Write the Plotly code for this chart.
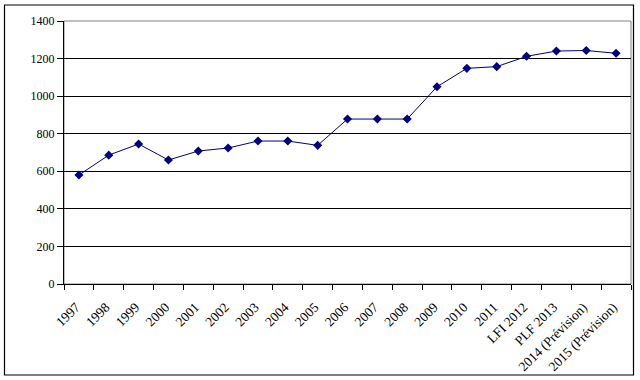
import plotly.graph_objects as go

categories = ["1997", "1998", "1999", "2000", "2001", "2002", "2003", "2004", "2005",
              "2006", "2007", "2008", "2009", "2010", "2011", "LFI 2012", "PLF 2013",
              "2014 (Prévision)", "2015 (Prévision)"]
values = [580, 686, 745, 660, 708, 724, 761, 761, 738,
          878, 878, 878, 1050, 1148, 1157, 1212, 1240, 1243, 1228]
y_ticks = [0, 200, 400, 600, 800, 1000, 1200, 1400]

fig = go.Figure()
fig.add_trace(go.Scatter(
    x=categories, y=values, mode="lines+markers",
    line=dict(color="#000080", width=1),
    marker=dict(symbol="diamond", size=7, color="#000080"),
    showlegend=False,
))

font = dict(family="Liberation Serif", size=12, color="black")

fig.update_layout(
    width=640, height=380,
    margin=dict(l=64, r=9, t=21, b=96, autoexpand=False),
    paper_bgcolor="white", plot_bgcolor="white",
    font=font,
    xaxis=dict(
        type="category", tickangle=-45, tickson="boundaries",
        ticks="outside", ticklen=5, tickcolor="black",
        showline=True, linecolor="black", linewidth=1,
        showgrid=False, tickfont=dict(family="Liberation Serif", size=13.5, color="black"),
        range=[-0.5, len(categories) - 0.5],
        automargin=False, ticklabelstandoff=9, ticklabelshift=-3,
    ),
    yaxis=dict(
        range=[0, 1400], tickvals=y_ticks,
        ticks="outside", ticklen=6, tickcolor="black",
        showline=True, linecolor="black", linewidth=1,
        showgrid=True, gridcolor="black", gridwidth=1,
        tickfont=font, zeroline=False, automargin=False,
    ),
    shapes=[
        dict(type="rect", xref="paper", yref="paper", x0=0, x1=1, y0=0, y1=1,
             line=dict(color="#808080", width=1), layer="below"),
        dict(type="rect", xref="paper", yref="paper",
             x0=-59.5 / 567, x1=(567 + 2.5) / 567, y0=-91 / 263, y1=(263 + 16) / 263,
             line=dict(color="black", width=1.2)),
    ],
)

fig.write_html(
    "out.html",
    config={"displayModeBar": False},
    post_script="document.body.style.margin='0';document.body.style.padding='0';",
)
